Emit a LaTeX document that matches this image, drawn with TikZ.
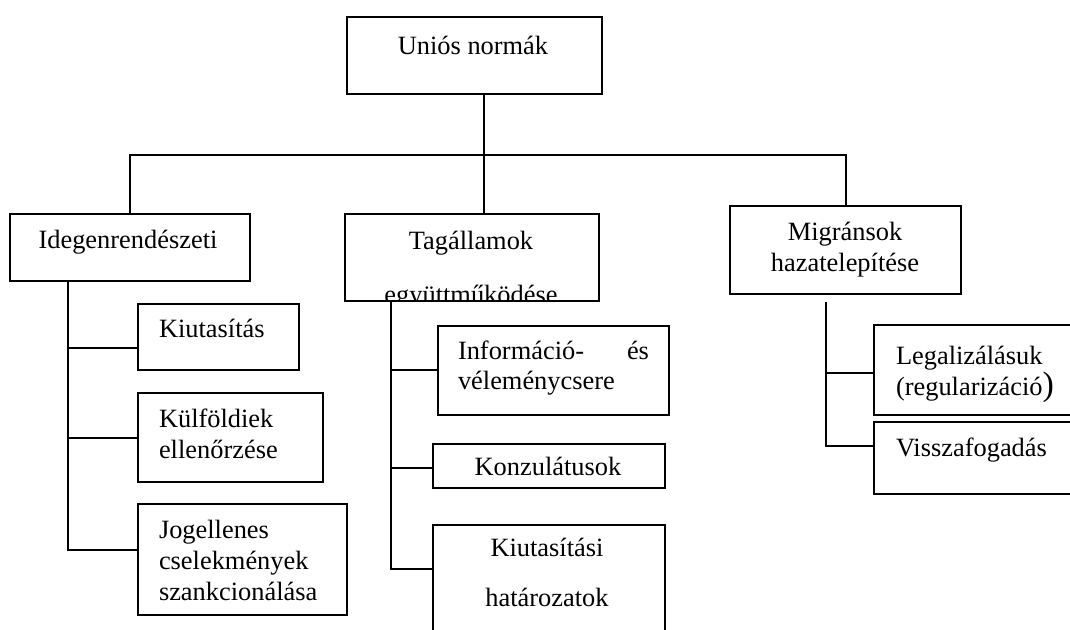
\documentclass[tikz,border=0pt]{standalone}
\usepackage{fontspec}
\setmainfont{Liberation Serif}
\usetikzlibrary{calc}

\begin{document}
\begin{tikzpicture}[x=0.5pt, y=-0.5pt, line width=1pt,
  box/.style={draw, rectangle, inner sep=0pt, anchor=north west},
  txt/.style={font=\fontsize{13.2}{15.5}\selectfont, inner sep=0pt}]

  \useasboundingbox (0,0) rectangle (1070,630);
  \clip (0,0) rectangle (1070,630);

  % Top level
  \node[box, minimum width=127.5pt, minimum height=38.5pt] (unio) at (346,16) {};
  \node[txt, anchor=base] (unio-t) at (473,55) {Uniós normák};

  % Second level
  \node[box, minimum width=120pt, minimum height=33.5pt] (idegen) at (9,213) {};
  \node[box, minimum width=127pt, minimum height=43.5pt] (tag) at (344,213) {};
  \node[box, minimum width=115.5pt, minimum height=44pt] (migr) at (729,205) {};

  \node[txt, anchor=base] (idegen-t) at (128,249) {Idegenrendészeti};
  \begin{scope}
    \clip (tag.north west) rectangle ($(tag.south east)+(0,-1)$);
    \node[txt, anchor=base, align=center] (tag-t) at (471,304)
      {Tagállamok\\[11.5pt]együttműködése};
  \end{scope}
  \node[txt, anchor=base, align=center] (migr-t) at (845,272)
    {Migránsok\\hazatelepítése};

  % Idegenrendeszeti branch
  \node[box, minimum width=80.5pt, minimum height=33pt] (kiut) at (137,303) {};
  \node[box, minimum width=92.5pt, minimum height=44.5pt] (kulf) at (137,392) {};
  \node[box, minimum width=104.5pt, minimum height=55.5pt] (jog) at (137,503) {};
  \node[txt, anchor=base west] (kiut-t) at (158,338) {Kiutasítás};
  \node[txt, anchor=base west, align=left] (kulf-t) at (158,458)
    {Külföldiek\\ellenőrzése};
  \node[txt, anchor=base west, align=left] (jog-t) at (158,600)
    {Jogellenes\\cselekmények\\szankcionálása};

  % Tagallamok branch
  \node[box, minimum width=115.5pt, minimum height=44.5pt] (info) at (437,325) {};
  \node[box, minimum width=116pt, minimum height=22pt] (konz) at (432,443) {};
  \node[box, minimum width=116pt, minimum height=70pt] (kihat) at (432,524) {};
  \node[txt, anchor=base west, text width=95.5pt, align=left] (info-t) at (457,359)
    {Információ-\hfill és\\véleménycsere};
  \node[txt, anchor=base] (konz-t) at (548,475) {Konzulátusok};
  \node[txt, anchor=base, align=center] (kihat-t) at (547,606)
    {Kiutasítási\\[9.5pt]határozatok};

  % Migransok branch
  \node[box, minimum width=110pt, minimum height=45pt] (legal) at (873,324) {};
  \node[box, minimum width=110pt, minimum height=36pt] (vissza) at (873,421) {};
  \node[txt, anchor=base west, align=left] (legal-t) at (895,395)
    {Legalizálásuk\\(regularizáció{\fontsize{17}{17}\selectfont)}};
  \node[txt, anchor=base west] (vissza-t) at (895,456) {Visszafogadás};

  % Connectors from the top
  \coordinate (bus) at (484,155);
  \draw (bus |- unio.south) -- (bus |- tag.north);
  \draw (idegen.north) |- (bus) -| (migr.north);

  % Left spine
  \coordinate (lsp) at ($(idegen.south west)+(59,0)$);
  \path (kiut.west) ++(0,11) coordinate (k1);
  \path (jog.west) ++(0,-10) coordinate (k3);
  \draw (lsp) |- (k3);
  \draw (k1 -| lsp) -- (k1);
  \draw (kulf.west -| lsp) -- (kulf.west);

  % Middle spine
  \coordinate (msp) at ($(tag.south west)+(47,0)$);
  \path (konz.west) ++(0,2) coordinate (m2);
  \path (kihat.north west) ++(0,45) coordinate (m3);
  \draw (msp) |- (m3);
  \draw (info.west -| msp) -- (info.west);
  \draw (m2 -| msp) -- (m2);

  % Right spine
  \coordinate (rsp) at ($(migr.south west)+(97,7)$);
  \path (legal.west) ++(0,3) coordinate (r1);
  \path (vissza.west) ++(0,-12) coordinate (r2);
  \draw (rsp) |- (r2);
  \draw (r1 -| rsp) -- (r1);
\end{tikzpicture}
\end{document}
